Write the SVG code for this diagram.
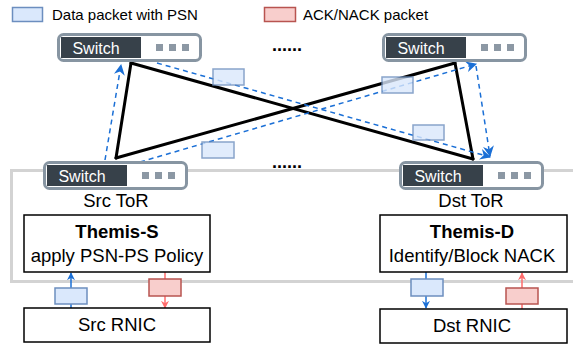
<svg xmlns="http://www.w3.org/2000/svg" width="573" height="348" viewBox="0 0 573 348">
  <defs>
    <style>
      text { font-family: "Liberation Sans", Arial, sans-serif; fill: #000; }
      .sw-outer { fill: #fff; stroke: #8795a2; stroke-width: 3; }
      .sw-inner { fill: #37414a; }
      .sw-label { fill: #fff; font-size: 16px; text-anchor: middle; }
      .sw-dot { fill: #8c98a4; }
      .box { fill: #fff; stroke: #000; stroke-width: 1.5; }
      .pkt-data { fill: #dae8fc; stroke: #6c8ebf; stroke-width: 1.5; }
      .pkt-ack { fill: #f8cecc; stroke: #b85450; stroke-width: 1.5; }
      .link { stroke: #000; stroke-width: 3; stroke-linecap: round; fill: none; }
      .flow { stroke: #1a6fd6; stroke-width: 1.5; stroke-dasharray: 5 4; fill: none; }
      .flow-s { stroke: #1a6fd6; stroke-width: 1.5; fill: none; }
      .ack-s { stroke: #ff6b6b; stroke-width: 1.5; fill: none; }
      .lbl { font-size: 18.5px; text-anchor: middle; }
      .dots { font-size: 18px; font-weight: bold; }
    </style>
    <marker id="arrowBlue" viewBox="0 0 10 10" refX="9" refY="5" markerWidth="11" markerHeight="11" markerUnits="userSpaceOnUse" orient="auto">
      <path d="M0,0 L10,5 L0,10 L3,5 Z" fill="#1a6fd6"/>
    </marker>
    <marker id="arrowBlueS" viewBox="0 0 10 10" refX="9" refY="5" markerWidth="8" markerHeight="8" markerUnits="userSpaceOnUse" orient="auto">
      <path d="M0,0 L10,5 L0,10 L3,5 Z" fill="#1a6fd6"/>
    </marker>
    <marker id="arrowRed" viewBox="0 0 10 10" refX="9" refY="5" markerWidth="8" markerHeight="8" markerUnits="userSpaceOnUse" orient="auto">
      <path d="M0,0 L10,5 L0,10 L3,5 Z" fill="#ff6b6b"/>
    </marker>
  </defs>

  <!-- legend -->
  <g id="legend">
    <rect class="pkt-data" x="12.5" y="7.5" width="30" height="14"/>
    <text x="52" y="20" font-size="15">Data packet with PSN</text>
    <rect class="pkt-ack" x="264.5" y="7.5" width="31" height="14"/>
    <text x="303" y="20" font-size="15">ACK/NACK packet</text>
  </g>

  <!-- host domain enclosure -->
  <path id="host-domain" d="M573,170.5 H11.5 V281.5 H573" fill="none" stroke="#d3d3d3" stroke-width="3"/>

  <!-- fabric links and flows -->
  <g id="connectors">
    <line class="link" x1="131" y1="63" x2="116" y2="158"/>
    <line class="link" x1="131" y1="63" x2="473" y2="159"/>
    <line class="link" x1="116" y1="158" x2="455" y2="63"/>
    <line class="link" x1="455" y1="63" x2="473" y2="159"/>

    <path class="flow" d="M105,160 L121,65" marker-end="url(#arrowBlue)"/>
    <path class="flow" d="M157,63 L490,157" marker-end="url(#arrowBlue)"/>
    <path class="flow" d="M140,162 L476,64" marker-end="url(#arrowBlue)"/>
    <path class="flow" d="M476,66 L490,156" marker-end="url(#arrowBlue)"/>

    <!-- host links -->
    <path class="flow-s" d="M71,308 V273" marker-end="url(#arrowBlueS)"/>
    <path class="ack-s" d="M165,272 V308" marker-end="url(#arrowRed)"/>
    <path class="flow-s" d="M426,272 V308" marker-end="url(#arrowBlueS)"/>
    <path class="ack-s" d="M522,309 V273" marker-end="url(#arrowRed)"/>
  </g>

  <!-- packets in flight -->
  <g id="packets">
    <rect class="pkt-data" x="213" y="69" width="31" height="16" opacity="0.8"/>
    <rect class="pkt-data" x="202" y="142" width="32" height="16" opacity="0.8"/>
    <rect class="pkt-data" x="382" y="77" width="31" height="16" opacity="0.8"/>
    <rect class="pkt-data" x="413" y="125" width="31" height="15" opacity="0.8"/>
    <rect class="pkt-data" x="55" y="288" width="32" height="16"/>
    <rect class="pkt-ack" x="149" y="279" width="32" height="17"/>
    <rect class="pkt-data" x="411" y="279" width="32" height="17"/>
    <rect class="pkt-ack" x="506" y="288" width="32" height="16"/>
  </g>

  <text class="dots" x="272" y="51">......</text>
  <text class="dots" x="272" y="168">......</text>

  <!-- switches -->
  <g id="spine-left" transform="translate(57,33)">
    <rect class="sw-outer" x="1.5" y="1.5" width="142" height="26" rx="5"/>
    <rect class="sw-inner" x="4" y="4" width="80" height="21"/>
    <text class="sw-label" x="39" y="21">Switch</text>
    <rect class="sw-dot" x="99" y="11" width="7" height="7"/>
    <rect class="sw-dot" x="112" y="11" width="7" height="7"/>
    <rect class="sw-dot" x="125" y="11" width="7" height="7"/>
  </g>
  <g id="spine-right" transform="translate(382,33)">
    <rect class="sw-outer" x="1.5" y="1.5" width="142" height="26" rx="5"/>
    <rect class="sw-inner" x="4" y="4" width="80" height="21"/>
    <text class="sw-label" x="39" y="21">Switch</text>
    <rect class="sw-dot" x="99" y="11" width="7" height="7"/>
    <rect class="sw-dot" x="112" y="11" width="7" height="7"/>
    <rect class="sw-dot" x="125" y="11" width="7" height="7"/>
  </g>
  <g id="src-tor" transform="translate(43,161)">
    <rect class="sw-outer" x="1.5" y="1.5" width="142" height="26" rx="5"/>
    <rect class="sw-inner" x="4" y="4" width="80" height="21"/>
    <text class="sw-label" x="39" y="21">Switch</text>
    <rect class="sw-dot" x="99" y="11" width="7" height="7"/>
    <rect class="sw-dot" x="112" y="11" width="7" height="7"/>
    <rect class="sw-dot" x="125" y="11" width="7" height="7"/>
    <text class="lbl" x="73" y="46">Src ToR</text>
  </g>
  <g id="dst-tor" transform="translate(399,161)">
    <rect class="sw-outer" x="1.5" y="1.5" width="142" height="26" rx="5"/>
    <rect class="sw-inner" x="4" y="4" width="80" height="21"/>
    <text class="sw-label" x="39" y="21">Switch</text>
    <rect class="sw-dot" x="99" y="11" width="7" height="7"/>
    <rect class="sw-dot" x="112" y="11" width="7" height="7"/>
    <rect class="sw-dot" x="125" y="11" width="7" height="7"/>
    <text class="lbl" x="72" y="46">Dst ToR</text>
  </g>

  <!-- host-side modules -->
  <g id="themis-s">
    <rect class="box" x="24" y="215" width="186" height="57"/>
    <text class="lbl" x="117" y="238" font-weight="bold">Themis-S</text>
    <text class="lbl" x="117" y="262">apply PSN-PS Policy</text>
  </g>
  <g id="themis-d">
    <rect class="box" x="380" y="215" width="187" height="57"/>
    <text class="lbl" x="472" y="238" font-weight="bold">Themis-D</text>
    <text class="lbl" x="472" y="262">Identify/Block NACK</text>
  </g>
  <g id="src-rnic">
    <rect class="box" x="24" y="308" width="186" height="34"/>
    <text class="lbl" x="117" y="331">Src RNIC</text>
  </g>
  <g id="dst-rnic">
    <rect class="box" x="380" y="309" width="187" height="34"/>
    <text class="lbl" x="472" y="332">Dst RNIC</text>
  </g>
</svg>
